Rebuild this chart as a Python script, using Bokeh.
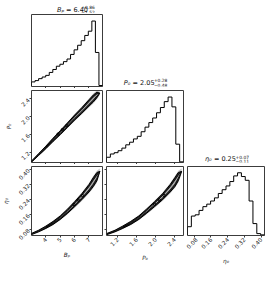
import math
from bokeh.plotting import figure
from bokeh.models import Range1d, FixedTicker
from bokeh.layouts import gridplot
from bokeh.embed import file_html
from bokeh.resources import INLINE
from bokeh.core.properties import value

# ---------------- data ----------------
B_range = (3.0, 7.94)
P_range = (0.97, 2.59)
eta_range = (0.048, 0.416)

B_ticks = [4, 5, 6, 7]
B_tick_labels = ["4", "5", "6", "7"]
P_ticks = [1.2, 1.6, 2.0, 2.4]
P_tick_labels = ["1.2", "1.6", "2.0", "2.4"]
eta_ticks = [0.08, 0.16, 0.24, 0.32, 0.40]
eta_tick_labels = ["0.08", "0.16", "0.24", "0.32", "0.40"]

# 1-D marginal histograms (20 bins over each range)
B_counts = [70, 90, 120, 145, 170, 215, 260, 310, 340, 380,
            420, 490, 560, 630, 700, 780, 845, 1000, 520, 15]
P_counts = [80, 130, 150, 180, 220, 270, 310, 360, 400, 470,
            540, 610, 680, 760, 840, 930, 1000, 850, 280, 10]
eta_counts = [140, 310, 330, 400, 460, 500, 550, 600, 670, 730,
              790, 860, 950, 1000, 940, 880, 550, 190, 30, 10]

# 2-D ridges (centre line of the posterior) and half-widths of the bands
B_ridge = [3.0, 3.5, 4.0, 4.5, 5.0, 5.5, 6.0, 6.5, 7.0, 7.3, 7.55, 7.75]
P_ridge_B = [0.99, 1.15, 1.31, 1.48, 1.64, 1.81, 1.98, 2.14, 2.31, 2.41, 2.49, 2.53]
P_fuzz = [0.025, 0.035, 0.045, 0.055, 0.065, 0.072, 0.08, 0.09, 0.10, 0.11, 0.10, 0.04]
P_outer = [0.012, 0.02, 0.028, 0.036, 0.043, 0.05, 0.056, 0.063, 0.072, 0.078, 0.062, 0.0]
P_inner = [0.0, 0.0, 0.0, 0.01, 0.015, 0.019, 0.022, 0.026, 0.032, 0.035, 0.022, 0.0]

eta_ridge_B = [0.056, 0.072, 0.092, 0.115, 0.143, 0.177, 0.215, 0.255, 0.300, 0.333, 0.362, 0.39]
P_ridge_eta = [0.98, 1.15, 1.31, 1.48, 1.65, 1.81, 1.98, 2.15, 2.31, 2.41, 2.48, 2.55]
eta_fuzz = [0.006, 0.008, 0.01, 0.012, 0.014, 0.017, 0.02, 0.023, 0.028, 0.032, 0.032, 0.015]
eta_outer = [0.003, 0.004, 0.006, 0.008, 0.009, 0.011, 0.013, 0.016, 0.02, 0.024, 0.022, 0.0]
eta_inner = [0.0, 0.0, 0.0, 0.002, 0.003, 0.004, 0.005, 0.007, 0.009, 0.011, 0.008, 0.0]

# small innermost contour islands
B_dots21 = [4.85, 5.15, 5.45]
P_dots21 = [1.61, 1.71, 1.80]
B_dots31 = [5.95, 6.25, 6.55]
eta_dots31 = [0.213, 0.237, 0.261]
P_dots32 = [1.98, 2.08, 2.18]
eta_dots32 = [0.215, 0.238, 0.262]

# titles: symbol, value, upper error, lower error
titles = [
    ("Bₚ", "= 6.40", "+0.86", "−1.52"),
    ("P₀", "= 2.05", "+0.28", "−0.48"),
    ("η₀", "= 0.25", "+0.07", "−0.11"),
]

# ---------------- styling ----------------
FONT = "DejaVu Sans"
TICK_FS = "5.7px"
EDGE = "#3c3c3c"
FW = 77          # frame width
FH = 72          # frame height
LB = 25          # left border of first column
BB = 28          # bottom border of last row


def base(w, h, xr, yr, bl, br, bt, bb, xaxis=True, yaxis=False):
    p = figure(width=w, height=h, x_range=Range1d(*xr), y_range=Range1d(*yr),
               output_backend="svg", toolbar_location=None, tools="", title=None,
               x_axis_location="below" if xaxis else None,
               y_axis_location="left" if yaxis else None,
               min_border_left=bl, min_border_right=br,
               min_border_top=bt, min_border_bottom=bb)
    p.outline_line_color = EDGE
    p.outline_line_width = 1
    p.background_fill_color = "white"
    p.border_fill_color = "white"
    p.grid.visible = False
    return p


def style_axis(ax, ticks, labels, show_labels, axis_label=None):
    ax.ticker = FixedTicker(ticks=ticks)
    ax.major_tick_out = 2
    ax.major_tick_in = 0
    ax.major_tick_line_color = EDGE
    ax.minor_tick_line_color = None
    ax.axis_line_color = None
    if show_labels:
        ax.major_label_overrides = {t: l for t, l in zip(ticks, labels)}
        ax.major_label_text_font_size = TICK_FS
        ax.major_label_text_font = FONT
        ax.major_label_text_color = "#222222"
        ax.major_label_orientation = math.pi / 4
        ax.major_label_standoff = 1
    else:
        ax.major_label_text_font_size = "0px"
        ax.major_label_text_color = None
        ax.major_label_standoff = 0
    if axis_label:
        ax.axis_label = axis_label
        ax.axis_label_text_font = FONT
        ax.axis_label_text_font_size = TICK_FS
        ax.axis_label_text_font_style = "italic"
        ax.axis_label_text_color = "#222222"
        ax.axis_label_standoff = 4


def hist(p, rng, counts):
    n = len(counts)
    edges = [rng[0] + (rng[1] - rng[0]) * i / n for i in range(n + 1)]
    xs, ys = [edges[0]], [0]
    for i, c in enumerate(counts):
        xs += [edges[i], edges[i + 1]]
        ys += [c, c]
    xs.append(edges[-1])
    ys.append(0)
    p.line(xs, ys, line_color="black", line_width=1)


def band(x, y, w):
    xs = list(x) + list(x)[::-1]
    ys = [a + b for a, b in zip(y, w)] + [a - b for a, b in zip(y, w)][::-1]
    return xs, ys


def ridge(p, x, y, fuzz, outer, inner, dx, dy):
    # halo of scattered samples
    xs, ys = band(x, y, fuzz)
    p.patch(xs, ys, fill_color="black", fill_alpha=0.22, line_color=None)
    # outer contour
    xs, ys = band(x, y, outer)
    p.patch(xs, ys, fill_color="#262626", fill_alpha=1.0, line_color="black", line_width=1)
    # inner contour (only where present)
    idx = [i for i in range(len(inner)) if inner[i] > 0 or
           (i + 1 < len(inner) and inner[i + 1] > 0) or (i > 0 and inner[i - 1] > 0)]
    xs, ys = band([x[i] for i in idx], [y[i] for i in idx], [inner[i] for i in idx])
    p.patch(xs, ys, fill_color="#a8a8a8", fill_alpha=1.0, line_color="black", line_width=0.8)
    p.scatter(dx, dy, marker="circle", size=2.3, fill_color=None,
              line_color="black", line_width=1)


def title_fig(w, h):
    p = figure(width=w, height=h, x_range=Range1d(0, w), y_range=Range1d(0, h),
               output_backend="svg", toolbar_location=None, tools="", title=None,
               x_axis_location=None, y_axis_location=None,
               min_border_left=0, min_border_right=0, min_border_top=0, min_border_bottom=0)
    p.outline_line_color = None
    p.background_fill_color = "white"
    p.border_fill_color = "white"
    p.grid.visible = False
    return p


EM = {" ": 0.318, "=": 0.838, ".": 0.318, "+": 0.838, "−": 0.838}


def em_width(s):
    return sum(EM.get(ch, 0.636) for ch in s)


def add_title(p, cx, y0, parts):
    var, val, up, lo = parts
    mfs, sfs = 6.5, 4.4
    w_var = 1.15 * mfs
    gap = 0.36 * mfs
    w_val = em_width(val) * mfs
    w_sup = em_width(up) * sfs
    left = cx - (w_var + gap + w_val + w_sup + 0.5) / 2
    anchor = left + w_var
    common = dict(text_font=value(FONT), text_color="#111111")
    p.text([anchor], [y0], text=[var], text_font_size=value("%.1fpx" % mfs),
           text_font_style="italic", text_align="right", text_baseline="alphabetic", **common)
    p.text([anchor + gap], [y0], text=[val], text_font_size=value("%.1fpx" % mfs),
           text_align="left", text_baseline="alphabetic", **common)
    xs = anchor + gap + w_val + 0.5
    p.text([xs], [y0 + 2.9], text=[up], text_font_size=value("%.1fpx" % sfs),
           text_align="left", text_baseline="alphabetic", **common)
    p.text([xs], [y0 - 2.0], text=[lo], text_font_size=value("%.1fpx" % sfs),
           text_align="left", text_baseline="alphabetic", **common)


W1 = LB + FW + 2   # 104
W2 = 2 + FW + 2    # 81
W3 = 2 + FW + 1    # 80
H0 = 13
H1 = 1 + FH + 2
H2 = 2 + FH + 2
H3 = 2 + FH + BB

# titles row / empty cells
T1 = title_fig(W1, H0)
add_title(T1, LB + FW / 2, 4.0, titles[0])
T2 = title_fig(W2, H1)
add_title(T2, 2 + FW / 2, 3.4, titles[1])
T3 = title_fig(W3, H2)
add_title(T3, 2 + FW / 2, 3.4, titles[2])

# diagonal histograms
h1 = base(W1, H1, B_range, (0, 1.1 * max(B_counts)), LB, 2, 1, 2)
style_axis(h1.xaxis[0], B_ticks, B_tick_labels, False)
hist(h1, B_range, B_counts)

h2 = base(W2, H2, P_range, (0, 1.1 * max(P_counts)), 2, 2, 2, 2)
style_axis(h2.xaxis[0], P_ticks, P_tick_labels, False)
hist(h2, P_range, P_counts)

h3 = base(W3, H3, eta_range, (0, 1.1 * max(eta_counts)), 2, 1, 2, BB)
style_axis(h3.xaxis[0], eta_ticks, eta_tick_labels, True, "η₀")
hist(h3, eta_range, eta_counts)

# 2-D panels
s21 = base(W1, H2, B_range, P_range, LB, 2, 2, 2, yaxis=True)
style_axis(s21.xaxis[0], B_ticks, B_tick_labels, False)
style_axis(s21.yaxis[0], P_ticks, P_tick_labels, True, "P₀")
ridge(s21, B_ridge, P_ridge_B, P_fuzz, P_outer, P_inner, B_dots21, P_dots21)

s31 = base(W1, H3, B_range, eta_range, LB, 2, 2, BB, yaxis=True)
style_axis(s31.xaxis[0], B_ticks, B_tick_labels, True, "Bₚ")
style_axis(s31.yaxis[0], eta_ticks, eta_tick_labels, True, "η₀")
ridge(s31, B_ridge, eta_ridge_B, eta_fuzz, eta_outer, eta_inner, B_dots31, eta_dots31)

s32 = base(W2, H3, P_range, eta_range, 2, 2, 2, BB, yaxis=True)
style_axis(s32.xaxis[0], P_ticks, P_tick_labels, True, "P₀")
style_axis(s32.yaxis[0], eta_ticks, eta_tick_labels, False)
ridge(s32, P_ridge_eta, eta_ridge_B, eta_fuzz, eta_outer, eta_inner, P_dots32, eta_dots32)

grid = gridplot([[T1, None, None],
                 [h1, T2, None],
                 [s21, h2, T3],
                 [s31, s32, h3]], toolbar_location=None)

open("out.html", "w").write(file_html(grid, INLINE))
